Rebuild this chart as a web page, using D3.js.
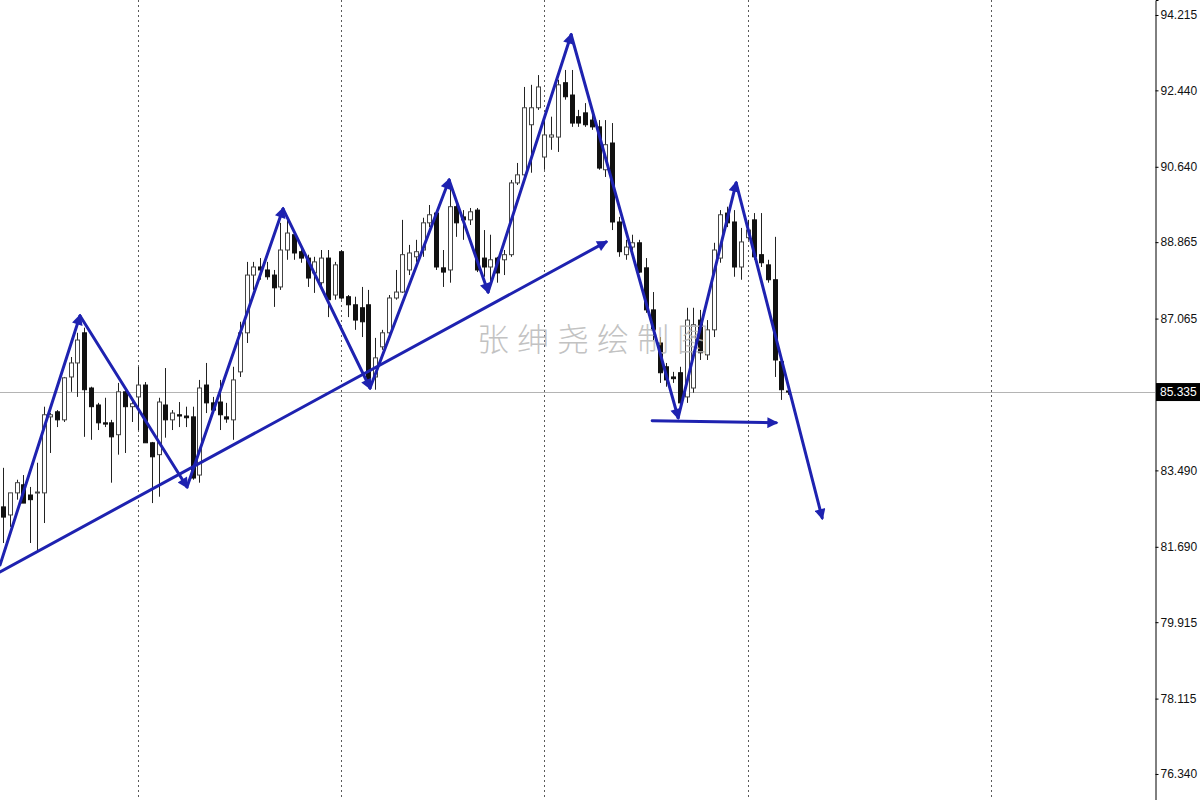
<!DOCTYPE html>
<html>
<head>
<meta charset="utf-8">
<script src="https://cdn.jsdelivr.net/npm/d3@7"></script>
<style>
  html, body { margin: 0; padding: 0; background: #fff; }
  svg { display: block; }
</style>
</head>
<body>
<svg id="chart" width="1200" height="800"></svg>
<script>
// ---- Data ----
const candleOpen = [
  82.63,82.44,82.96,83.15,82.91,82.96,82.96,84.75,84.87,84.68,
  85.69,86.02,86.73,85.43,85.03,84.61,84.61,84.33,85.34,84.99,
  85.22,85.50,84.14,83.86,85.03,84.68,84.80,84.77,84.75,83.38,
  85.50,85.08,85.10,84.75,84.68,85.81,86.73,88.09,88.28,88.21,
  88.09,87.81,88.68,89.04,88.64,88.49,88.14,87.91,88.49,87.62,
  88.64,87.58,87.39,87.32,87.39,85.69,86.40,86.73,87.55,87.69,
  88.21,88.52,88.68,89.32,89.55,88.26,88.21,89.70,89.46,89.39,
  89.62,88.49,88.28,88.49,88.45,88.57,90.26,90.45,91.63,92.03,
  90.87,91.34,91.34,92.62,92.33,91.82,91.91,91.74,91.58,90.57,
  91.20,89.34,88.57,88.75,88.85,88.26,87.27,86.49,85.93,85.69,
  85.79,85.22,85.43,87.03,86.21,86.80,88.49,89.55,89.34,88.28,
  88.97,89.39,88.57,88.33,87.98,86.05,85.36
];
const candleHigh = [
  83.55,82.96,83.27,83.38,83.10,83.67,84.99,84.84,84.91,85.69,
  86.16,86.73,86.85,85.46,85.08,85.20,84.68,85.55,85.39,85.10,
  85.93,85.57,84.16,85.20,85.90,84.91,85.10,84.99,84.99,85.62,
  86.02,85.22,85.62,85.08,85.93,86.99,88.40,88.40,88.49,88.40,
  88.21,89.32,89.44,89.11,88.73,88.57,88.52,88.68,88.68,88.40,
  88.68,87.62,87.58,87.81,87.74,86.61,86.80,87.62,88.21,89.39,
  88.80,88.92,89.44,89.74,89.58,88.68,90.33,89.79,89.62,89.67,
  89.67,89.15,89.04,88.52,88.68,90.33,90.73,92.52,92.57,92.80,
  91.82,91.82,92.69,92.92,92.92,91.98,92.14,91.86,91.74,91.74,
  91.67,89.46,88.92,89.04,88.92,88.49,87.69,86.63,86.02,85.81,
  85.93,87.32,87.32,87.27,87.03,88.85,89.62,89.70,89.62,89.20,
  89.39,89.55,89.55,88.45,88.99,86.16,85.43
];
const candleLow = [
  81.78,82.16,82.80,82.72,81.78,81.55,82.25,83.90,84.51,84.63,
  85.34,85.22,84.28,84.21,84.44,84.51,83.20,83.86,83.90,84.63,
  84.44,84.14,82.72,82.87,84.26,84.44,84.51,84.51,83.27,83.20,
  84.84,84.84,84.44,84.61,84.21,85.69,86.49,87.74,87.98,87.98,
  87.34,87.74,88.45,88.45,88.38,87.81,87.67,87.74,87.10,87.51,
  87.51,87.10,86.80,86.63,85.46,85.39,86.33,86.56,87.51,87.67,
  88.09,88.40,88.52,89.22,88.21,87.81,87.91,88.99,88.92,89.27,
  88.16,88.05,87.91,87.91,88.09,88.52,90.21,90.40,90.50,91.98,
  90.57,91.04,90.99,92.22,91.58,91.58,91.58,91.51,90.57,90.40,
  89.15,88.52,88.45,88.68,88.14,87.20,86.56,85.55,85.46,85.55,
  84.91,85.08,85.32,86.09,86.09,86.63,88.38,89.22,88.05,87.98,
  88.92,88.45,88.28,87.91,85.69,85.15,85.27
];
const candleClose = [
  82.39,82.96,83.20,82.72,82.80,82.98,84.80,84.80,84.68,85.67,
  86.02,86.56,85.39,84.99,84.61,84.58,84.28,85.34,84.99,85.06,
  85.50,84.14,83.81,85.10,84.68,84.84,84.77,84.73,83.31,85.43,
  85.08,84.91,84.80,84.70,85.62,86.73,88.09,88.28,88.21,88.05,
  87.79,88.68,89.08,88.61,88.49,88.02,88.40,88.49,87.51,88.33,
  87.55,87.39,87.03,86.99,85.62,86.14,86.73,87.55,87.69,88.57,
  88.61,88.64,89.32,89.51,88.28,88.16,89.70,89.32,89.39,89.58,
  88.21,88.28,88.45,88.14,88.57,90.26,90.45,92.03,92.03,92.52,
  91.39,91.39,92.57,92.29,91.67,91.67,91.63,91.58,90.61,91.16,
  89.34,88.64,88.75,88.85,88.16,87.27,86.80,85.79,85.62,85.65,
  85.08,87.03,86.92,86.26,86.80,88.68,89.51,89.32,88.28,88.87,
  89.15,88.52,88.38,87.98,86.09,85.39,85.335
];

const priceTicks = [94.215, 92.440, 90.640, 88.865, 87.065, 83.490, 81.690, 79.915, 78.115, 76.340];
const currentPrice = 85.335;
const gridBars = [20, 50, 80, 110, 146];

// zigzag swing points (bar index, price)
const zigzagBar   = [-0.44, 11.38, 27.19, 41.38, 54.23, 65.91, 71.67, 83.94, 99.75, 108.32, 121.03];
const zigzagPrice = [81.26, 87.13, 83.10, 89.65, 85.43, 90.33, 87.69, 93.75, 84.73, 90.26, 82.37];
// rising trendline
const trendBar   = [-0.44, 89.11];
const trendPrice = [81.10, 88.87];
// neckline arrow
const necklineBar   = [95.91, 114.23];
const necklinePrice = [84.66, 84.61];

const watermark = "张绅尧绘制图";

// ---- Drawing ----
const W = 1200, H = 800, plotRight = 1155;
const svg = d3.select("#chart");

const x = d3.scaleLinear().domain([-0.44, 170.2]).range([0, plotRight]);
const y = d3.scaleLinear().domain([75.727, 94.568]).range([H, 0]);

const bars = d3.range(candleOpen.length).map(i => ({
  i, o: candleOpen[i], h: candleHigh[i], l: candleLow[i], c: candleClose[i]
}));

const defs = svg.append("defs");
defs.append("marker")
  .attr("id", "arrow")
  .attr("viewBox", "0 0 10 10")
  .attr("refX", 8).attr("refY", 5)
  .attr("markerUnits", "userSpaceOnUse")
  .attr("markerWidth", 13).attr("markerHeight", 11)
  .attr("orient", "auto")
  .append("path")
  .attr("d", "M0,0 L10,5 L0,10 z")
  .attr("fill", "#1e22b0");

// vertical dotted grid
svg.append("g")
  .selectAll("line")
  .data(gridBars)
  .join("line")
  .attr("x1", d => Math.round(x(d)) + 0.5)
  .attr("x2", d => Math.round(x(d)) + 0.5)
  .attr("y1", 0).attr("y2", H)
  .attr("stroke", "#5a5a5a")
  .attr("stroke-width", 1)
  .attr("stroke-dasharray", "2,3");

// current price line
svg.append("line")
  .attr("x1", 0).attr("x2", plotRight)
  .attr("y1", Math.round(y(currentPrice)) + 0.5)
  .attr("y2", Math.round(y(currentPrice)) + 0.5)
  .attr("stroke", "#b4b4b4").attr("stroke-width", 1);

// candles
const bodyW = 4;
const cg = svg.append("g");
cg.selectAll("line.wick")
  .data(bars)
  .join("line")
  .attr("class", "wick")
  .attr("x1", d => Math.round(x(d.i)) + 0.5)
  .attr("x2", d => Math.round(x(d.i)) + 0.5)
  .attr("y1", d => y(d.h))
  .attr("y2", d => y(d.l))
  .attr("stroke", "#222")
  .attr("stroke-width", 1);
cg.selectAll("rect.body")
  .data(bars)
  .join("rect")
  .attr("class", "body")
  .attr("x", d => Math.round(x(d.i)) - bodyW / 2 + 0.5)
  .attr("width", bodyW)
  .attr("y", d => y(Math.max(d.o, d.c)))
  .attr("height", d => Math.max(1, Math.abs(y(d.o) - y(d.c))))
  .attr("fill", d => d.c < d.o ? "#111" : "#fff")
  .attr("stroke", d => d.c < d.o ? "#111" : "#444")
  .attr("stroke-width", 1);

// watermark
svg.append("text")
  .attr("x", 477).attr("y", 351)
  .attr("font-family", "'Noto Sans CJK SC', sans-serif")
  .attr("font-weight", 300)
  .attr("font-size", 32)
  .attr("letter-spacing", 8)
  .attr("fill", "#b8b8b8")
  .attr("opacity", 0.85)
  .text(watermark);

// blue analysis lines
const blue = "#1e22b0";
const lg = svg.append("g");
const segs = [];
for (let k = 0; k < zigzagBar.length - 1; k++) {
  segs.push([zigzagBar[k], zigzagPrice[k], zigzagBar[k + 1], zigzagPrice[k + 1]]);
}
segs.push([trendBar[0], trendPrice[0], trendBar[1], trendPrice[1]]);
segs.push([necklineBar[0], necklinePrice[0], necklineBar[1], necklinePrice[1]]);
lg.selectAll("line")
  .data(segs)
  .join("line")
  .attr("x1", d => x(d[0])).attr("y1", d => y(d[1]))
  .attr("x2", d => x(d[2])).attr("y2", d => y(d[3]))
  .attr("stroke", blue)
  .attr("stroke-width", 3)
  .attr("stroke-linecap", "round")
  .attr("marker-end", "url(#arrow)");

// white strip behind axis
svg.append("rect").attr("x", plotRight).attr("y", 0).attr("width", W - plotRight).attr("height", H).attr("fill", "#fff");

// right price axis
const axis = d3.axisRight(y)
  .tickValues(priceTicks)
  .tickSize(3)
  .tickPadding(2)
  .tickFormat(d3.format(".3f"));
const ag = svg.append("g")
  .attr("transform", `translate(${plotRight + 0.5},0)`)
  .call(axis);
ag.select(".domain").attr("stroke", "#000");
ag.selectAll(".tick line").attr("stroke", "#000");
ag.selectAll(".tick text")
  .attr("font-family", "'Liberation Sans', Arial, sans-serif")
  .attr("font-size", 12)
  .attr("fill", "#111");

// current price label
const cy = y(currentPrice);
svg.append("rect")
  .attr("x", plotRight + 1).attr("y", cy - 9)
  .attr("width", W - plotRight - 1).attr("height", 18)
  .attr("fill", "#000");
svg.append("text")
  .attr("x", plotRight + 5).attr("y", cy + 4)
  .attr("font-family", "'Liberation Sans', Arial, sans-serif")
  .attr("font-size", 12)
  .attr("fill", "#fff")
  .text(d3.format(".3f")(currentPrice));
</script>
</body>
</html>
